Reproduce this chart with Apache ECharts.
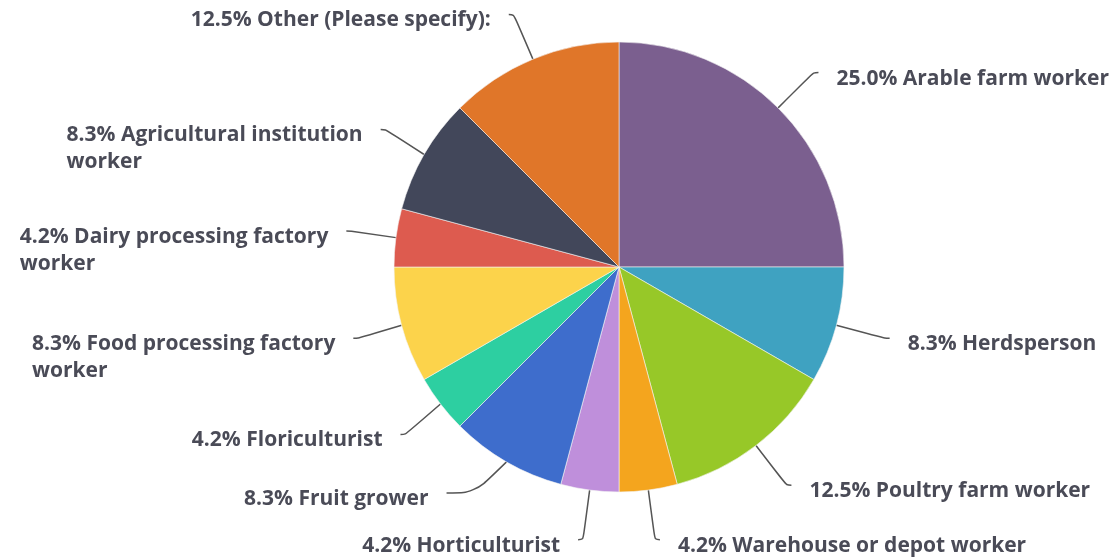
<!DOCTYPE html>
<html>
<head>
<meta charset="utf-8">
<script src="https://cdn.jsdelivr.net/npm/echarts@6/dist/echarts.min.js"></script>
<style>
  html, body { margin: 0; padding: 0; background: #fff; }
  #chart { width: 1112px; height: 560px; }
</style>
</head>
<body>
<div id="chart"></div>
<script>
// Respondents by occupation (counts out of 24)
const categories = [
  'Arable farm worker',
  'Herdsperson',
  'Poultry farm worker',
  'Warehouse or depot worker',
  'Horticulturist',
  'Fruit grower',
  'Floriculturist',
  'Food processing factory worker',
  'Dairy processing factory worker',
  'Agricultural institution worker',
  'Other (Please specify):'
];
const counts = [6, 2, 3, 1, 1, 2, 1, 2, 1, 2, 3];
const colors = [
  '#7b5f8f', '#3fa2c1', '#97c828', '#f4a51e', '#bf8fdb',
  '#3e6dcc', '#2dcfa1', '#fcd34b', '#dd5b4f', '#42475a', '#e07629'
];

const FONT_FAMILY = '"Open Sans"';
const FONT_SIZE = 21;
const FONT_WEIGHT = 700;
const LINE_HEIGHT = 27;
const LEFT_MAX_WIDTH = 325;   // wrap width for labels on the left half
const LABEL_GAP = 18;         // space between leader line end and text

// Leader lines that bend out more sideways than the rest
const leaderOverrides = {
  'Fruit grower': { length: 36, length2: 28 }
};

const total = counts.reduce((a, b) => a + b, 0);
const CX = 619, CY = 267;

// Greedy word wrap measured with the same font as the labels
const measureCtx = document.createElement('canvas').getContext('2d');
measureCtx.font = FONT_WEIGHT + ' ' + FONT_SIZE + 'px ' + FONT_FAMILY;
function wrap(text, maxWidth) {
  const words = text.split(' ');
  const lines = [];
  let cur = '';
  words.forEach(w => {
    const trial = cur ? cur + ' ' + w : w;
    if (cur && measureCtx.measureText(trial).width > maxWidth) {
      lines.push(cur);
      cur = w;
    } else {
      cur = trial;
    }
  });
  if (cur) lines.push(cur);
  return lines.join('\n');
}

// Which half of the pie each slice's middle falls on
let acc = 0;
const onLeft = counts.map(c => {
  const mid = (acc + c / 2) / total;
  acc += c;
  return mid > 0.5;
});

const chart = echarts.init(document.getElementById('chart'), null, { renderer: 'canvas' });
chart.setOption({
  animation: false,
  series: [{
    type: 'pie',
    center: [CX, CY],
    radius: 225,
    startAngle: 90,
    clockwise: true,
    data: categories.map((name, i) => {
      const item = { name: name, value: counts[i], itemStyle: { color: colors[i] } };
      if (leaderOverrides[name]) item.labelLine = leaderOverrides[name];
      return item;
    }),
    itemStyle: { borderColor: '#f4f4f4', borderWidth: 0.6 },
    label: {
      formatter: p => {
        const txt = (p.value / total * 100).toFixed(1) + '% ' + p.name;
        return onLeft[p.dataIndex] ? wrap(txt, LEFT_MAX_WIDTH) : txt;
      },
      fontFamily: FONT_FAMILY,
      fontWeight: FONT_WEIGHT,
      fontSize: FONT_SIZE,
      color: '#4a4b57',
      lineHeight: LINE_HEIGHT
    },
    labelLine: {
      length: 50,
      length2: 5,
      smooth: 0.35,
      lineStyle: { color: '#555', width: 1.5 }
    },
    // Keep the text block beside the line end, lines left-aligned,
    // first line centred just below the end of the leader line.
    labelLayout: params => {
      const pts = params.labelLinePoints;
      if (!pts) return {};
      const end = pts[pts.length - 1];
      const w = params.labelRect.width;
      const left = end[0] < CX;
      return {
        x: left ? end[0] - LABEL_GAP - w : end[0] + LABEL_GAP,
        y: end[1] + 6 - LINE_HEIGHT / 2,
        align: 'left',
        verticalAlign: 'top',
        labelLinePoints: pts
      };
    }
  }]
});
</script>
</body>
</html>
